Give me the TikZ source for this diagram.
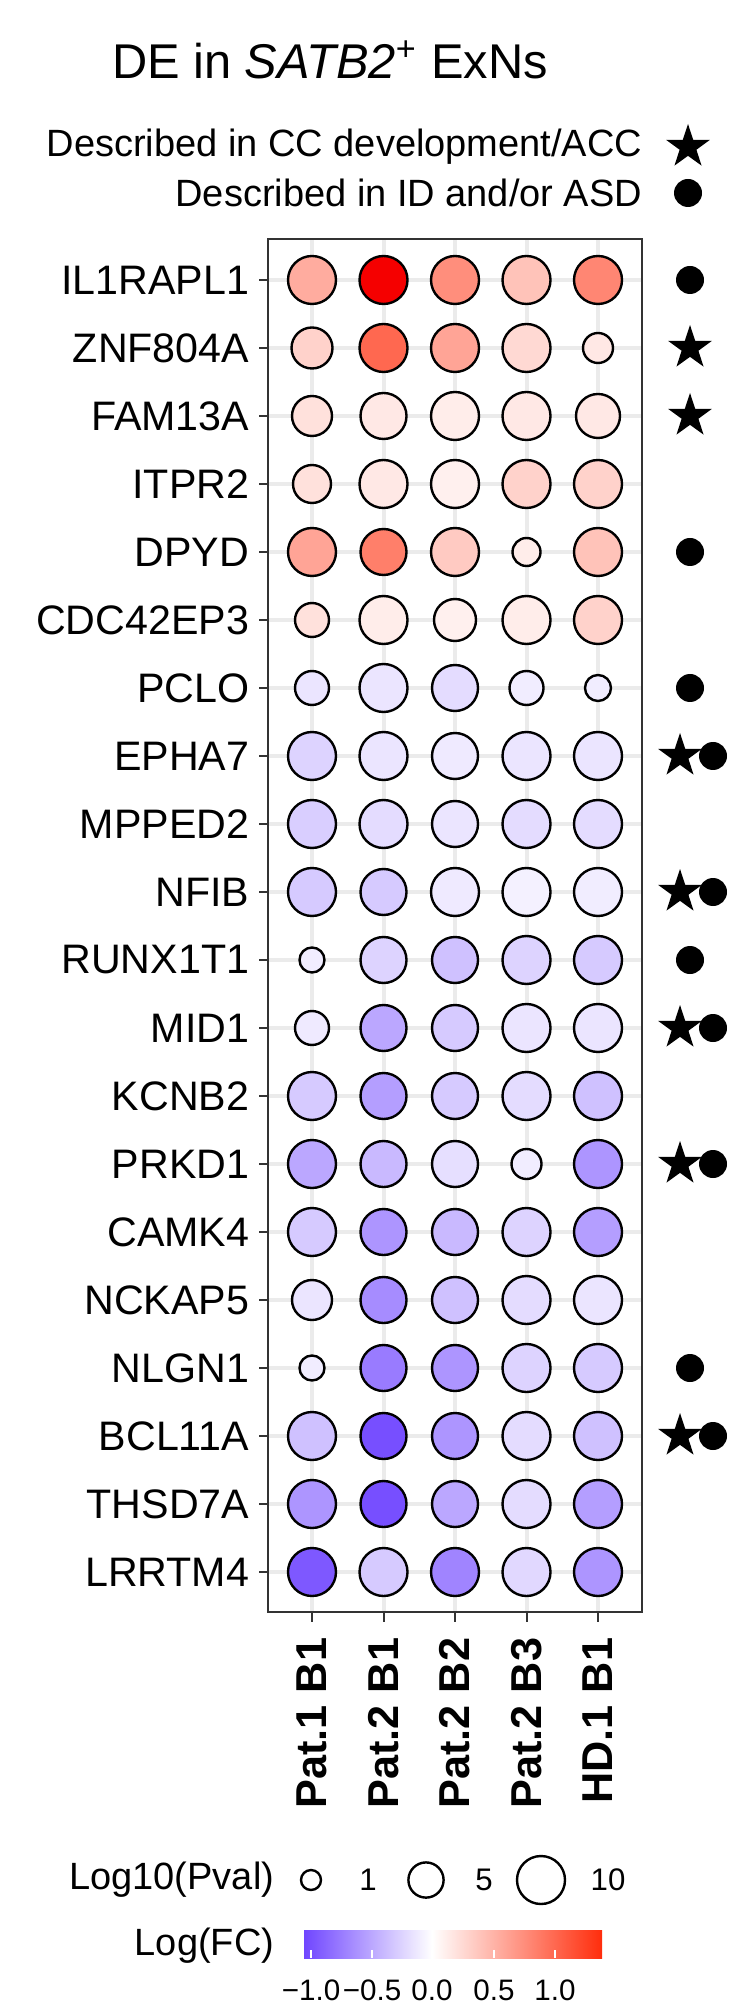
\documentclass[tikz,border=0pt]{standalone}
\usepackage{fontspec}
\setmainfont{Liberation Sans}
\usetikzlibrary{shapes.geometric}

\definecolor{fclo}{RGB}{112,70,255}
\definecolor{fchi}{RGB}{255,45,12}
\definecolor{fctop}{RGB}{245,0,0}
\definecolor{gridgray}{RGB}{235,235,235}
\definecolor{framegray}{RGB}{51,51,51}

\tikzset{
  gene/.style={anchor=east, font=\fontsize{10.3}{12}\selectfont, inner sep=0pt},
  sample/.style={rotate=90, anchor=east, font=\fontsize{10.8}{12}\selectfont\bfseries, inner sep=0pt},
  legtext/.style={anchor=east, font=\fontsize{9.5}{11}\selectfont, inner sep=0pt},
  ticklab/.style={font=\fontsize{7.4}{9}\selectfont, inner sep=0pt},
  pdot/.style={circle, draw=black, line width=0.6pt, inner sep=0pt},
  accstar/.style={star, star points=5, star point ratio=2.6, fill=black, inner sep=0pt, minimum size=11.5pt},
  iddot/.style={circle, fill=black, inner sep=0pt, minimum size=7pt},
}

% colour of one dot from its log fold change
\newcommand\setfc[1]{%
  \ifdim #1pt<0pt
    \pgfmathsetmacro\fcp{min(100,abs(#1)/1.05*100)}\colorlet{fcnow}{fclo!\fcp!white}%
  \else
    \ifdim #1pt>1.3pt
      \colorlet{fcnow}{fctop}%
    \else
      \pgfmathsetmacro\fcp{min(100,#1/1.39*100)}\colorlet{fcnow}{fchi!\fcp!white}%
    \fi
  \fi}

\begin{document}
\begin{tikzpicture}[x=0.25pt, y=-0.25pt]
\useasboundingbox (0,0) rectangle (738,2009);

% title and marker legend
\node[font=\fontsize{12.2}{14}\selectfont] (title) at (330,60) {DE in \textit{SATB2}\textsuperscript{+} ExNs};
\node[legtext] (legacc) at (643,147) {Described in CC development/ACC};
\node[accstar] (legstar) at (688,147) {};
\node[legtext] (legid) at (643,193) {Described in ID and/or ASD};
\node[iddot] (legdot) at (688,193) {};

% grid
\foreach \x in {312,383.5,455,526.5,598}
  \draw[gridgray, line width=1pt] (\x,239) -- (\x,1612);
\foreach \i in {0,...,19}
  \draw[gridgray, line width=1pt] (268,280+68*\i) -- (642,280+68*\i);

% dots
\foreach \g/\va/\ra/\vb/\rb/\vc/\rc/\vd/\rd/\ve/\re [count=\i from 0] in {
  IL1RAPL1/0.55/24/1.39/24/0.75/24/0.4/24/0.8/24,
  ZNF804A/0.3/20.5/1.0/24/0.6/24/0.25/24/0.15/15,
  FAM13A/0.2/20/0.15/23/0.12/24/0.15/24/0.15/22,
  ITPR2/0.2/19/0.15/24/0.1/24/0.3/24/0.3/24,
  DPYD/0.6/24/0.85/23/0.35/24/0.12/14/0.4/24,
  CDC42EP3/0.2/17/0.12/24/0.1/21/0.12/24/0.3/24,
  PCLO/-0.15/17/-0.15/24/-0.2/23/-0.1/17/-0.1/13,
  EPHA7/-0.25/24/-0.15/24/-0.12/23/-0.15/24/-0.15/24,
  MPPED2/-0.28/24/-0.2/24/-0.15/23/-0.2/24/-0.2/24,
  NFIB/-0.3/24/-0.3/23/-0.12/24/-0.08/24/-0.1/24,
  RUNX1T1/-0.1/12.5/-0.25/23/-0.35/23/-0.25/24/-0.3/24,
  MID1/-0.12/17/-0.5/23/-0.3/23/-0.15/24/-0.15/24,
  KCNB2/-0.3/24/-0.55/23/-0.3/23/-0.2/24/-0.35/24,
  PRKD1/-0.5/24/-0.4/23/-0.18/23/-0.1/15/-0.6/24,
  CAMK4/-0.3/24/-0.6/23/-0.4/23/-0.25/24/-0.55/24,
  NCKAP5/-0.15/20/-0.65/23/-0.35/23/-0.2/24/-0.15/24,
  NLGN1/-0.1/12.5/-0.75/23/-0.6/23/-0.25/24/-0.3/24,
  BCL11A/-0.35/24/-1.0/23/-0.6/23/-0.2/24/-0.35/24,
  THSD7A/-0.6/24/-1.0/23/-0.5/23/-0.2/24/-0.55/24,
  LRRTM4/-0.95/24/-0.3/24/-0.7/24/-0.22/24/-0.6/24}{
  \node[gene] (g\i) at (250,280+68*\i) {\g};
  \draw[framegray, line width=0.5pt] (259,280+68*\i) -- (268,280+68*\i);
  \foreach \v/\r [count=\j from 0] in {\va/\ra,\vb/\rb,\vc/\rc,\vd/\rd,\ve/\re}{
    \setfc{\v}
    \node[pdot, fill=fcnow, minimum size=\r*0.5pt] (d\i-\j) at (312+71.5*\j,280+68*\i) {};
  }
}

% frame
\draw[framegray, line width=0.6pt] (268,239) rectangle (642,1612);

% gene markers
\foreach \i in {1,2}
  \node[accstar] (s\i) at (690,280+68*\i) {};
\foreach \i in {0,4,6,10,16}
  \node[iddot] (m\i) at (690,280+68*\i) {};
\foreach \i in {7,9,11,13,17}{
  \node[accstar] (s\i) at (680,280+68*\i) {};
  \node[iddot] (m\i) at (713,280+68*\i) {};
}

% sample axis
\foreach \s [count=\j from 0] in {Pat.1 B1,Pat.2 B1,Pat.2 B2,Pat.2 B3,HD.1 B1}{
  \draw[framegray, line width=0.5pt] (312+71.5*\j,1612) -- (312+71.5*\j,1622);
  \node[sample] (c\j) at (312+71.5*\j,1637) {\s};
}

% size legend
\node[legtext] (pvalt) at (275,1880) {Log10(Pval)};
\foreach \x/\r/\l/\lx in {311/10/1/368,426/17.6/5/484,541/24/10/608}{
  \node[pdot, minimum size=\r*0.5pt] (p\l) at (\x,1880) {};
  \node[ticklab, font=\fontsize{7.8}{9}\selectfont] (pl\l) at (\lx,1880) {\l};
}

% colour legend
\node[legtext] (fct) at (275,1946) {Log(FC)};
\shade[left color=fclo, right color=white] (304,1930) rectangle (432,1958);
\shade[left color=white, right color=fchi] (432,1930) rectangle (602,1958);
\foreach \x/\l in {311/−1.0,372/−0.5,432/0.0,494/0.5,555/1.0}{
  \draw[white, line width=0.4pt] (\x,1950) -- (\x,1958);
  \node[ticklab] (t\x) at (\x,1990) {\l};
}
\end{tikzpicture}
\end{document}
